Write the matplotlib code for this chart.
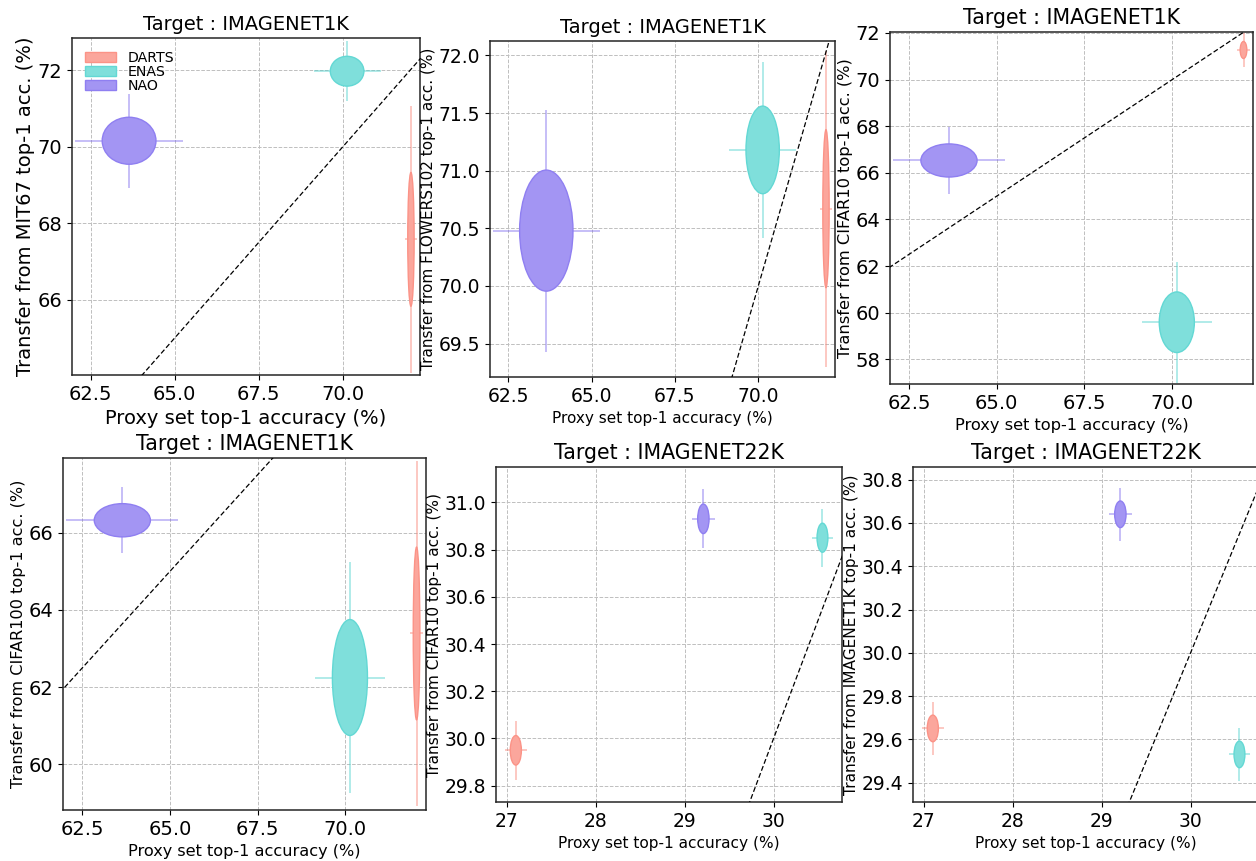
import numpy as np
import matplotlib
matplotlib.use('Agg')
import matplotlib.pyplot as plt
import matplotlib.colors as mcolors
from matplotlib.patches import Ellipse, Patch

# methods and colours
methods = ['DARTS', 'ENAS', 'NAO']
colors = ['salmon', 'mediumturquoise', 'mediumslateblue']

# proxy set accuracy (x axis), mean and std
proxy_1k_mean = [72.03, 70.13, 63.64]
proxy_1k_std = [0.19, 1.0, 1.6]
proxy_22k_mean = [27.10, 30.55, 29.21]
proxy_22k_std = [0.125, 0.122, 0.128]

# transfer accuracy (y axis), mean and std
mit67_mean = [67.58, 71.98, 70.16]
mit67_std = [3.5, 0.78, 1.23]
flowers_mean = [70.67, 71.18, 70.48]
flowers_std = [1.37, 0.76, 1.05]
cifar10_1k_mean = [71.27, 59.59, 66.53]
cifar10_1k_std = [0.73, 2.6, 1.42]
cifar100_mean = [63.39, 62.25, 66.32]
cifar100_std = [4.47, 3.0, 0.86]
cifar10_22k_mean = [29.95, 30.85, 30.93]
cifar10_22k_std = [0.125, 0.123, 0.125]
in1k_22k_mean = [29.651, 29.531, 30.64]
in1k_22k_std = [0.123, 0.123, 0.123]

xticks_1k = [62.5, 65.0, 67.5, 70.0]
xticks_22k = [27, 28, 29, 30]

# one entry per panel
panels = [
    dict(target='IMAGENET1K', source='MIT67', x=proxy_1k_mean, xs=proxy_1k_std, y=mit67_mean, ys=mit67_std,
         rect=[0.0573, 0.5645, 0.2771, 0.3914], xlim=(61.94, 72.3), ylim=(64.03, 72.85), xt=xticks_1k,
         tick=14, lab=14, title=14, legend=True),
    dict(target='IMAGENET1K', source='FLOWERS102', x=proxy_1k_mean, xs=proxy_1k_std, y=flowers_mean, ys=flowers_std,
         rect=[0.3901, 0.5621, 0.2747, 0.3902], xlim=(61.95, 72.3), ylim=(69.21, 72.124), xt=xticks_1k,
         tick=13.5, lab=11, title=14, legend=False),
    dict(target='IMAGENET1K', source='CIFAR10', x=proxy_1k_mean, xs=proxy_1k_std, y=cifar10_1k_mean, ys=cifar10_1k_std,
         rect=[0.7086, 0.554, 0.289, 0.4088], xlim=(61.96, 72.3), ylim=(56.94, 72.04), xt=xticks_1k,
         tick=14, lab=11.7, title=14.8, legend=False),
    dict(target='IMAGENET1K', source='CIFAR100', x=proxy_1k_mean, xs=proxy_1k_std, y=cifar100_mean, ys=cifar100_std,
         rect=[0.0502, 0.0592, 0.289, 0.4088], xlim=(61.95, 72.3), ylim=(58.82, 67.93), xt=xticks_1k,
         tick=14, lab=11.6, title=14.8, legend=False),
    dict(target='IMAGENET22K', source='CIFAR10', x=proxy_22k_mean, xs=proxy_22k_std, y=cifar10_22k_mean, ys=cifar10_22k_std,
         rect=[0.3949, 0.0685, 0.2755, 0.389], xlim=(26.877, 30.77), ylim=(29.731, 31.149), xt=xticks_22k,
         tick=13.5, lab=11.1, title=14.8, legend=False),
    dict(target='IMAGENET22K', source='IMAGENET1K', x=proxy_22k_mean, xs=proxy_22k_std, y=in1k_22k_mean, ys=in1k_22k_std,
         rect=[0.7269, 0.0685, 0.2755, 0.389], xlim=(26.877, 30.77), ylim=(29.311, 30.858), xt=xticks_22k,
         tick=13.5, lab=11.1, title=14.8, legend=False),
]


def blend(c, a):
    # colour c seen at opacity a over white
    r = np.array(mcolors.to_rgb(c))
    return tuple(r * a + (1 - a))


fill_colors = [blend(c, 0.7) for c in colors]
edge_colors = [blend(c, 0.85) for c in colors]

fig = plt.figure(figsize=(12.56, 8.61), dpi=100)

for p in panels:
    ax = fig.add_axes(p['rect'])
    for i, m in enumerate(methods):
        ax.errorbar(p['x'][i], p['y'][i], xerr=p['xs'][i], yerr=p['ys'][i],
                    color=colors[i], alpha=0.5, lw=1.2, zorder=2)
        ax.add_patch(Ellipse((p['x'][i], p['y'][i]), width=p['xs'][i], height=p['ys'][i],
                             facecolor=fill_colors[i], edgecolor=edge_colors[i], lw=1, zorder=3))
    # y = x reference line
    lo = min(p['xlim'][0], p['ylim'][0])
    hi = max(p['xlim'][1], p['ylim'][1])
    ax.plot([lo, hi], [lo, hi], color='black', lw=0.9, linestyle=(0, (4, 2)), zorder=4)
    ax.set_xlim(p['xlim'])
    ax.set_ylim(p['ylim'])
    ax.set_xticks(p['xt'])

    ax.grid(True, color='0.75', linestyle='--', linewidth=0.7)
    ax.set_axisbelow(True)
    ax.tick_params(labelsize=p['tick'])
    for s in ax.spines.values():
        s.set_linewidth(1.1)
        s.set_color('0.15')
    ax.set_title('Target : ' + p['target'], fontsize=p['title'])
    ax.set_xlabel('Proxy set top-1 accuracy (%)', fontsize=p['lab'])
    ax.set_ylabel('Transfer from ' + p['source'] + ' top-1 acc. (%)', fontsize=p['lab'], labelpad=2)

    if p['legend']:
        handles = [Patch(facecolor=fill_colors[k], edgecolor=edge_colors[k]) for k in range(len(colors))]
        ax.legend(handles, methods, loc='upper left', frameon=False, fontsize=10.2,
                  labelspacing=0.0, handlelength=2.2, handletextpad=0.8)

fig.savefig('out.png', dpi=100)
